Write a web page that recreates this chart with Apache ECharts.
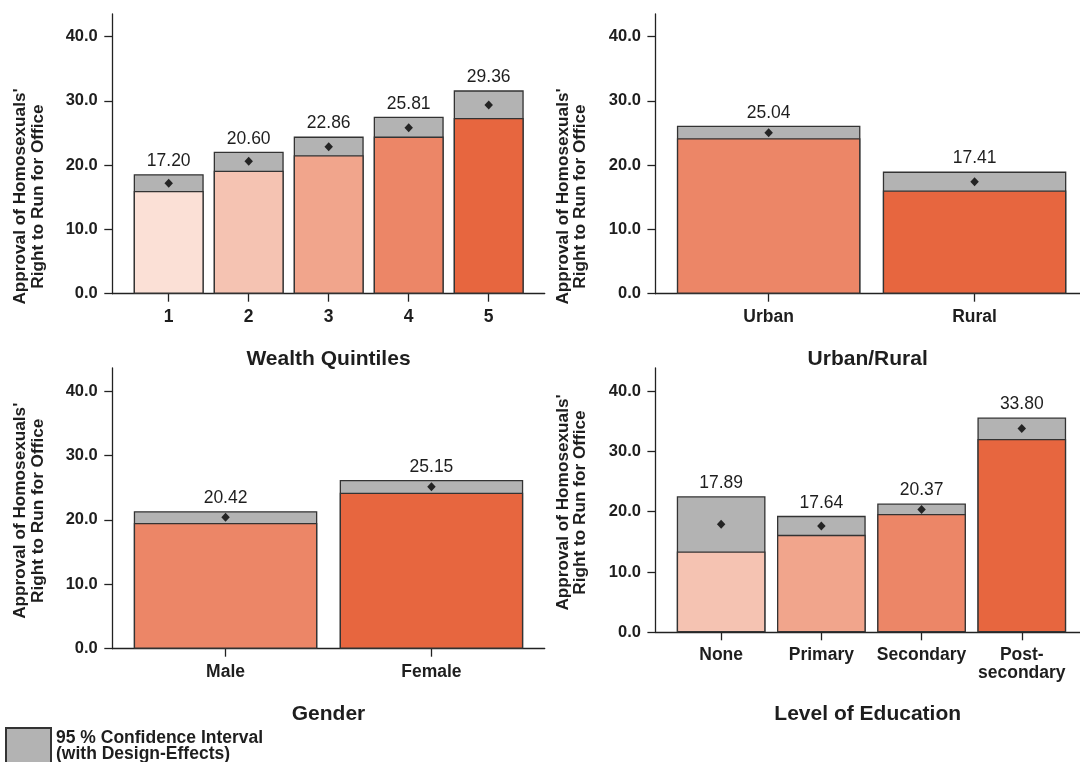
<!DOCTYPE html>
<html>
<head>
<meta charset="utf-8">
<script src="https://cdn.jsdelivr.net/npm/echarts@6/dist/echarts.min.js"></script>
<style>
html,body{margin:0;padding:0;background:#fff;}
#chart{width:1080px;height:762px;}
</style>
</head>
<body>
<div id="chart"></div>
<script>
// ---- Data ----
const yTicks = [0, 10, 20, 30, 40];

const wealthCats = ['1', '2', '3', '4', '5'];
const wealthEst  = [17.20, 20.60, 22.86, 25.81, 29.36];
const wealthLow  = [16.0, 19.15, 21.55, 24.45, 27.35];
const wealthHigh = [18.6, 22.1, 24.45, 27.55, 31.65];

const areaCats = ['Urban', 'Rural'];
const areaEst  = [25.04, 17.41];
const areaLow  = [24.2, 16.05];
const areaHigh = [26.15, 19.0];

const genderCats = ['Male', 'Female'];
const genderEst  = [20.42, 25.15];
const genderLow  = [19.5, 24.2];
const genderHigh = [21.35, 26.2];

const eduCats = ['None', 'Primary', 'Secondary', 'Post-\nsecondary'];
const eduEst  = [17.89, 17.64, 20.37, 33.80];
const eduLow  = [13.4, 16.15, 19.6, 32.05];
const eduHigh = [22.55, 19.3, 21.35, 35.6];

const panelTitles = ['Wealth Quintiles', 'Urban/Rural', 'Gender', 'Level of Education'];
const yAxisTitle = "Approval of Homosexuals'\nRight to Run for Office";
const ciName = '95 % Confidence Interval\n(with Design-Effects)';

// ---- Styling ----
const C1 = '#FBE0D6', C2 = '#F5C3B2', C3 = '#F1A58C', C4 = '#EC8667', C5 = '#E7663F';
const GRAY = '#B3B3B3', EDGE = '#333333', INK = '#1e1e1e';
const FONT = '"Liberation Sans", Arial, sans-serif';

const panels = [
  {cats: wealthCats, est: wealthEst, low: wealthLow, high: wealthHigh, colors: [C1, C2, C3, C4, C5],
   grid: {left: 112.3, top: 14, width: 432.4, height: 279.7}, xMin: 0.295, xMax: 5.70, yMax: 43.53,
   barW: 70, nameGap: 55, yTitle: [29.3, 196.5]},
  {cats: areaCats, est: areaEst, low: areaLow, high: areaHigh, colors: [C4, C5],
   grid: {left: 655.4, top: 14, width: 424.6, height: 279.7}, xMin: 0.45, xMax: 2.512, yMax: 43.53,
   barW: 183.5, nameGap: 55, yTitle: [571.5, 196.5]},
  {cats: genderCats, est: genderEst, low: genderLow, high: genderHigh, colors: [C4, C5],
   grid: {left: 112.3, top: 368, width: 432.4, height: 280.7}, xMin: 0.45, xMax: 2.55, yMax: 43.57,
   barW: 183.5, nameGap: 55, yTitle: [29.3, 510.8]},
  {cats: eduCats, est: eduEst, low: eduLow, high: eduHigh, colors: [C2, C3, C4, C5],
   grid: {left: 655.4, top: 368, width: 424.6, height: 264.3}, xMin: 0.344, xMax: 4.581, yMax: 43.81,
   barW: 88.7, nameGap: 71.5, yTitle: [571.5, 502.5]}
];

const grid = [], xAxis = [], yAxis = [], series = [], graphic = [];

panels.forEach((p, i) => {
  const positions = p.cats.map((c, k) => k + 1);
  grid.push(Object.assign({containLabel: false, outerBoundsMode: 'none'}, p.grid));
  xAxis.push({
    type: 'value', gridIndex: i, min: p.xMin, max: p.xMax,
    name: panelTitles[i], nameLocation: 'middle', nameGap: p.nameGap,
    nameTextStyle: {fontFamily: FONT, fontWeight: 'bold', fontSize: 21, color: INK},
    axisLine: {show: true, onZero: false, lineStyle: {color: '#222', width: 1.3}},
    axisTick: {show: true, length: 8, customValues: positions, lineStyle: {color: '#222', width: 1.3}},
    axisLabel: {show: true, customValues: positions, margin: 14, fontFamily: FONT, fontWeight: 'bold',
      fontSize: 17.5, lineHeight: 18, color: INK,
      formatter: v => p.cats[Math.round(v) - 1] || ''},
    splitLine: {show: false}
  });
  yAxis.push({
    type: 'value', gridIndex: i, min: 0, max: p.yMax,
    axisLine: {show: true, lineStyle: {color: '#222', width: 1.3}},
    axisTick: {show: true, length: 8, customValues: yTicks, lineStyle: {color: '#222', width: 1.3}},
    axisLabel: {show: true, customValues: yTicks, margin: 14.5, fontFamily: FONT, fontWeight: 'bold',
      fontSize: 16.5, color: INK, formatter: v => v.toFixed(1)},
    splitLine: {show: false}
  });
  series.push({
    type: 'bar', name: ciName, xAxisIndex: i, yAxisIndex: i,
    barWidth: p.barW, barGap: '-100%',
    data: positions.map((x, k) => [x, p.high[k]]),
    itemStyle: {color: GRAY, borderColor: EDGE, borderWidth: 1.3},
    label: {show: true, position: 'top', distance: 4, fontFamily: FONT, fontSize: 17.5, color: INK,
      formatter: q => p.est[q.dataIndex].toFixed(2)},
    emphasis: {disabled: true}, silent: true
  });
  series.push({
    type: 'bar', name: 'estimate-bar-' + i, xAxisIndex: i, yAxisIndex: i,
    barWidth: p.barW, barGap: '-100%',
    data: positions.map((x, k) => ({value: [x, p.low[k]], itemStyle: {color: p.colors[k]}})),
    itemStyle: {borderColor: EDGE, borderWidth: 1.3},
    emphasis: {disabled: true}, silent: true
  });
  series.push({
    type: 'scatter', name: 'estimate-' + i, xAxisIndex: i, yAxisIndex: i,
    symbol: 'diamond', symbolSize: [8.5, 9], z: 5,
    data: positions.map((x, k) => [x, p.est[k]]),
    itemStyle: {color: '#000'},
    emphasis: {disabled: true}, silent: true
  });
  graphic.push({
    type: 'text', x: p.yTitle[0], y: p.yTitle[1], rotation: Math.PI / 2,
    style: {text: yAxisTitle, fontFamily: FONT, fontWeight: 'bold', fontSize: 17.2, lineHeight: 17.2,
      fill: INK, align: 'center', verticalAlign: 'middle'}
  });
});

const chart = echarts.init(document.getElementById('chart'), null, {renderer: 'canvas'});
chart.setOption({
  animation: false,
  backgroundColor: '#ffffff',
  textStyle: {fontFamily: FONT},
  grid, xAxis, yAxis, series, graphic,
  legend: {
    show: true, left: 5, top: 727, padding: 0, orient: 'vertical', selectedMode: false,
    data: [{name: ciName, icon: 'rect'}],
    itemWidth: 45, itemHeight: 36, itemGap: 0,
    textStyle: {fontFamily: FONT, fontWeight: 'bold', fontSize: 17.5, lineHeight: 16.5, color: INK}
  }
});
</script>
</body>
</html>
